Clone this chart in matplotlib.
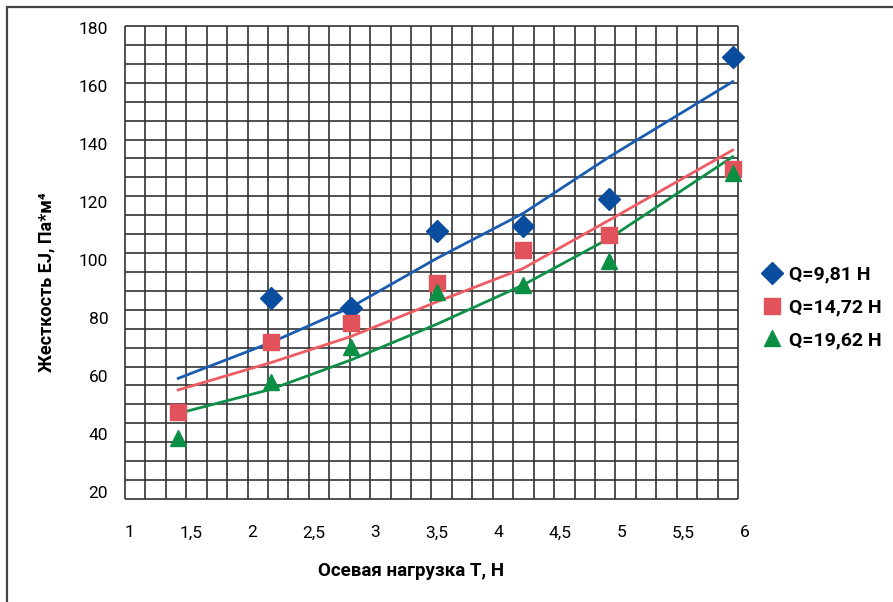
import matplotlib.pyplot as plt
import matplotlib.patches as mpatches
import numpy as np

plt.rcParams['font.family'] = ['Roboto', 'DejaVu Sans']

# Data
x_pts = [1.4, 2.15, 2.8, 3.5, 4.2, 4.9, 5.9]
q981 = [np.nan, 86.8, 83.5, 110.1, 111.8, 120.9, 169.9]
q1472 = [47.7, 71.8, 78.4, 92.2, 103.6, 108.6, 131.4]
q1962 = [38.5, 58.0, 70.1, 89.1, 91.4, 99.8, 130.1]

# trend lines (values read at the same x positions)
trend981 = [59.2, 71.5, 83.7, 100.6, 116.1, 135.6, 161.5]
trend1472 = [55.2, 64.6, 73.6, 85.6, 97.1, 113.8, 137.9]
trend1962 = [47.1, 55.4, 65.5, 77.9, 91.4, 107.5, 135.6]

labels = ['Q=9,81 Н', 'Q=14,72 Н', 'Q=19,62 Н']
x_ticks = [1, 1.5, 2, 2.5, 3, 3.5, 4, 4.5, 5, 5.5, 6]
y_ticks = [20, 40, 60, 80, 100, 120, 140, 160, 180]

W, H = 893, 602
fig = plt.figure(figsize=(W / 100, H / 100), dpi=100)

# outer frame (cut at right and bottom)
fig.patches.append(mpatches.Rectangle((7 / W, -0.05), 1.0, 1 - 7 / H + 0.05,
                                      transform=fig.transFigure, fill=False,
                                      edgecolor='#444444', lw=1.6))

# data axes: x=1..6 -> px 129..745, y=20..180 -> px 492..28
ax = fig.add_axes([129 / W, 1 - 492 / H, (745 - 129) / W, (492 - 28) / H])
ax.set_xlim(1, 6)
ax.set_ylim(20, 180)
for s in ax.spines.values():
    s.set_visible(False)

# graph-paper grid
gx = np.linspace(0.9675, 5.943, 31)
gy = np.linspace(17.59, 180.69, 26)
ax.vlines(gx, gy[0], gy[-1], colors='#333333', lw=1.2, clip_on=False, zorder=1)
ax.hlines(gy, gx[0], gx[-1], colors='#333333', lw=1.2, clip_on=False, zorder=1)

ax.plot(x_pts, trend981, color='#1a5db0', lw=2, zorder=2)
ax.plot(x_pts, trend1472, color='#ee5c63', lw=2, zorder=2)
ax.plot(x_pts, trend1962, color='#0f9048', lw=2, zorder=2)

ax.plot(x_pts, q981, 'D', color='#0a4c9e', ms=11, ls='none', label=labels[0], zorder=3, clip_on=False)
ax.plot(x_pts, q1472, 's', color='#e2525a', ms=11.5, ls='none', label=labels[1], zorder=3, clip_on=False)
ax.plot(x_pts, q1962, '^', color='#0b8f45', ms=12, ls='none', label=labels[2], zorder=3, clip_on=False)

ax.set_xticks(x_ticks)
ax.set_xticklabels([str(v).replace('.', ',') if v % 1 else str(int(v)) for v in x_ticks])
ax.set_yticks(y_ticks)
ax.tick_params(axis='both', length=0, labelsize=12.5)
ax.tick_params(axis='x', pad=24)
ax.tick_params(axis='y', pad=15)

fig.text(411 / W, 1 - 571 / H, 'Осевая нагрузка Т, Н', ha='center', va='center',
         fontsize=13.5, fontweight='bold')
fig.text(46 / W, 1 - 282 / H, 'Жесткость EJ, Па*м⁴', ha='center', va='center',
         rotation=90, fontsize=13, fontweight='bold')

fig.legend(loc='upper left', bbox_to_anchor=(754 / W, 1 - 258 / H), frameon=False,
           prop={'size': 14, 'weight': 'bold'}, handlelength=1.0, handletextpad=0.4,
           labelspacing=0.75, borderaxespad=0)

fig.savefig('out.png', dpi=100)
